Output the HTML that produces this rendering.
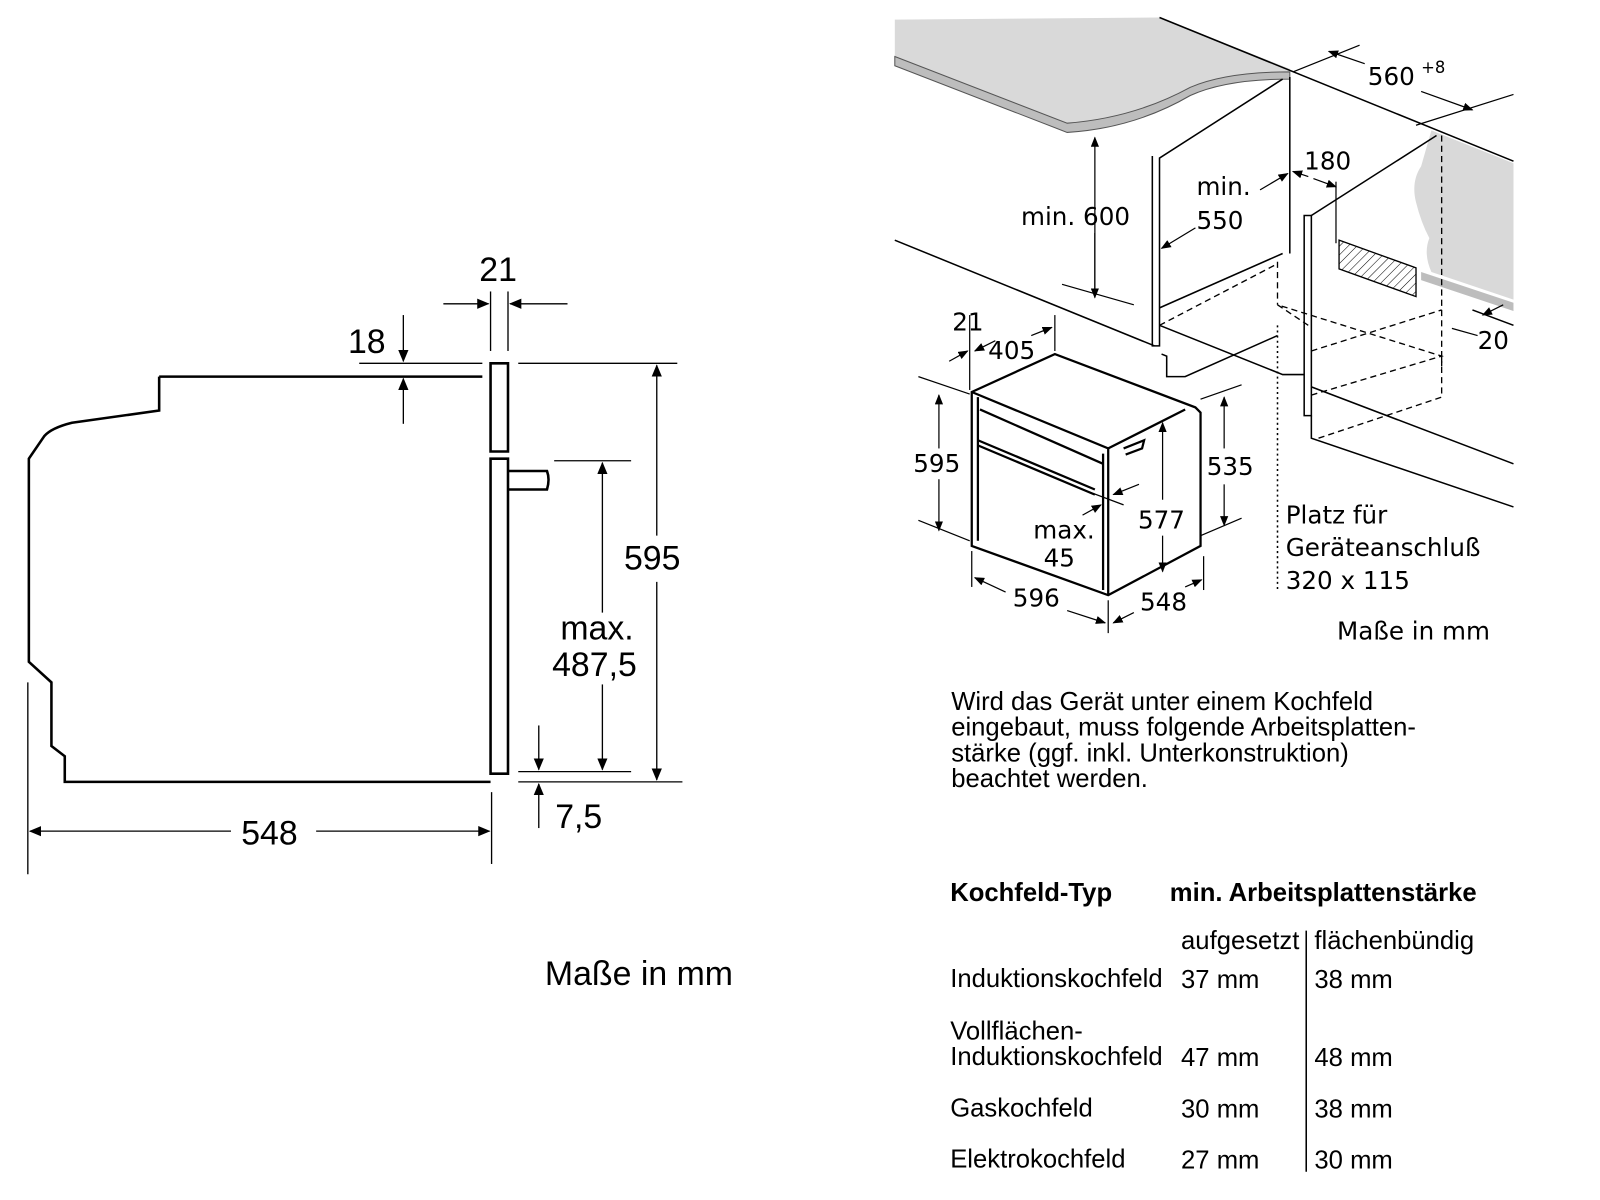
<!DOCTYPE html>
<html><head><meta charset="utf-8"><style>
html,body{margin:0;padding:0;background:#fff;}
svg{display:block;font-family:"Liberation Sans","DejaVu Sans",sans-serif;}
</style></head><body>
<svg width="1600" height="1200" viewBox="0 0 1600 1200" xmlns="http://www.w3.org/2000/svg">
<defs>
<marker id="a" markerWidth="12" markerHeight="10" refX="11" refY="5" orient="auto" markerUnits="userSpaceOnUse"><path d="M0,0 L12,5 L0,10 Z" fill="#000"/></marker>
<marker id="s" markerWidth="10" markerHeight="8" refX="9" refY="4" orient="auto" markerUnits="userSpaceOnUse"><path d="M0,0 L10,4 L0,8 Z" fill="#000"/></marker>
<pattern id="h" width="6" height="6" patternUnits="userSpaceOnUse" patternTransform="rotate(45)"><line x1="0" y1="0" x2="0" y2="6" stroke="#000" stroke-width="1"/></pattern>
</defs>
<g transform="translate(-5,-3) scale(1.026)">
<g fill="none" stroke="#000" stroke-width="2.5">
<path d="M160,370 L475,370 M160,370 L160,403 L75,415 Q55,420 48,428 L33,450 L33,648 L55,668 L55,730 L68,740 L68,765 L483,765"/>
<path d="M483,357 L500,357 L500,443 L483,443 Z"/>
<path d="M483,450 L500,450 L500,757 L483,757 Z" />
<path d="M500,462 L538,462 Q541,470 538,480 L500,480"/>
</g>
<g stroke="#000" stroke-width="1.3" fill="none">
<line x1="483" y1="287" x2="483" y2="345"/><line x1="500" y1="287" x2="500" y2="345"/>
<line x1="437" y1="299" x2="481" y2="299" marker-end="url(#a)"/><line x1="558" y1="299" x2="502" y2="299" marker-end="url(#a)"/>
<line x1="355" y1="357" x2="475" y2="357"/><line x1="510" y1="357" x2="665" y2="357"/>
<line x1="398" y1="310" x2="398" y2="355" marker-end="url(#a)"/><line x1="398" y1="416" x2="398" y2="372" marker-end="url(#a)"/>
<line x1="510" y1="765" x2="670" y2="765"/><line x1="510" y1="755" x2="620" y2="755"/>
<line x1="545" y1="452" x2="620" y2="452"/>
<line x1="645" y1="525" x2="645" y2="359" marker-end="url(#a)"/><line x1="645" y1="570" x2="645" y2="763" marker-end="url(#a)"/>
<line x1="592" y1="600" x2="592" y2="454" marker-end="url(#a)"/><line x1="592" y1="670" x2="592" y2="753" marker-end="url(#a)"/>
<line x1="530" y1="710" x2="530" y2="753" marker-end="url(#a)"/><line x1="530" y1="810" x2="530" y2="767" marker-end="url(#a)"/>
<line x1="32" y1="668" x2="32" y2="855"/><line x1="484" y1="775" x2="484" y2="845"/>
<line x1="230" y1="813" x2="34" y2="813" marker-end="url(#a)"/><line x1="313" y1="813" x2="482" y2="813" marker-end="url(#a)"/>
</g>
<g font-size="33" fill="#000">
<text x="472" y="277">21</text><text x="344" y="347">18</text>
<text x="613" y="558">595</text><text x="551" y="626">max.</text><text x="543" y="662">487,5</text>
<text x="546" y="810">7,5</text><text x="240" y="826">548</text>
<text x="536" y="963">Maße in mm</text>
</g>

<path d="M877,22 L1135,20 L1262,70 L1262,75 Q1200,75 1165,90 Q1110,120 1045,125 L877,60 Z" fill="#d9d9d9"/>
<path d="M877,58 L1045,123 Q1110,118 1165,88 Q1200,73 1262,73 L1262,80 Q1200,80 1165,96 Q1110,128 1045,132 L877,67 Z" fill="#bdbdbd" stroke="#555" stroke-width="1"/>
<path d="M1400,130 L1480,162 L1480,295 L1400,268 Q1392,250 1398,235 Q1390,220 1385,200 Q1380,180 1390,165 Z" fill="#d9d9d9"/>
<path d="M1390,268 L1480,298 L1480,306 L1390,276 Z" fill="#bdbdbd"/>
<g stroke="#000" stroke-width="1.5" fill="none">
<line x1="1135" y1="20" x2="1480" y2="160"/>
<path d="M1128,155 L1128,340 L1135,340 L1135,157 L1255,80"/><line x1="1262" y1="78" x2="1262" y2="250"/>
<line x1="877" y1="237" x2="1130" y2="340"/>
<path d="M1135,320 L1255,368 L1276,368"/><path d="M1137,348 L1142,350 L1142,370 L1160,370 L1250,330"/>
<line x1="1135" y1="303" x2="1255" y2="250"/>
<path d="M1276,213 L1283,213 L1283,408 L1276,408 Z"/><line x1="1283" y1="213" x2="1405" y2="135"/>
<path d="M1283,408 L1283,430 L1480,497"/><line x1="1283" y1="380" x2="1480" y2="455"/>
<line x1="1440" y1="305" x2="1480" y2="320"/>
</g>
<g stroke="#000" stroke-width="1.3" fill="none" stroke-dasharray="6,4">
<line x1="1410" y1="135" x2="1410" y2="360"/><line x1="1250" y1="258" x2="1250" y2="300"/>
<path d="M1250,300 L1280,320"/><path d="M1283,388 L1410,350 L1250,300"/>
<path d="M1283,345 L1410,305"/><path d="M1290,430 L1410,390 L1410,350"/>
<line x1="1135" y1="320" x2="1250" y2="260" />
</g>
<line x1="1250" y1="320" x2="1250" y2="580" stroke="#000" stroke-width="1.5" stroke-dasharray="2,3"/>
<path d="M1310,237 L1385,264 L1385,292 L1310,265 Z" fill="url(#h)" stroke="#000" stroke-width="1.3"/>
<g stroke="#000" stroke-width="1.2" fill="none">
<line x1="1072" y1="290" x2="1072" y2="137" marker-end="url(#s)"/><line x1="1072" y1="230" x2="1072" y2="293" marker-end="url(#s)"/>
<line x1="1040" y1="280" x2="1110" y2="300"/>
<line x1="1170" y1="225" x2="1137" y2="245" marker-end="url(#s)"/><line x1="1233" y1="188" x2="1260" y2="172" marker-end="url(#s)"/>
<line x1="1280" y1="175" x2="1265" y2="170" marker-end="url(#s)"/><line x1="1285" y1="177" x2="1307" y2="185" marker-end="url(#s)"/>
<line x1="1307" y1="180" x2="1307" y2="240"/>
<line x1="1265" y1="73" x2="1330" y2="47"/><line x1="1385" y1="125" x2="1480" y2="95"/>
<line x1="1335" y1="65" x2="1300" y2="53" marker-end="url(#s)"/><line x1="1390" y1="92" x2="1440" y2="110" marker-end="url(#s)"/>
<line x1="1420" y1="323" x2="1445" y2="330"/><line x1="1470" y1="300" x2="1450" y2="310" marker-end="url(#s)"/>
</g>
<g stroke="#000" stroke-width="2.2" fill="none">
<path d="M952,385 L1033,348 L1170,400 L1175,405 L1175,535 L1085,583 L952,535 Z"/>
<path d="M952,385 L1085,440 L1160,402"/><line x1="1085" y1="440" x2="1085" y2="583"/>
<path d="M958,390 L958,530 M1080,445 L1080,578"/>
<line x1="960" y1="402" x2="1080" y2="455"/>
<path d="M958,432 L1072,480 M958,437 L1072,485"/>
<path d="M1100,440 L1120,432 L1118,440 L1102,446"/>
</g>
<g stroke="#000" stroke-width="1.2" fill="none">
<line x1="900" y1="370" x2="950" y2="387"/><line x1="900" y1="510" x2="950" y2="530"/>
<line x1="920" y1="440" x2="920" y2="388" marker-end="url(#s)"/><line x1="920" y1="470" x2="920" y2="520" marker-end="url(#s)"/>
<line x1="1175" y1="392" x2="1215" y2="378"/><line x1="1175" y1="525" x2="1215" y2="508"/>
<line x1="1198" y1="440" x2="1198" y2="390" marker-end="url(#s)"/><line x1="1198" y1="475" x2="1198" y2="515" marker-end="url(#s)"/>
<line x1="1138" y1="490" x2="1138" y2="415" marker-end="url(#s)"/><line x1="1138" y1="525" x2="1138" y2="560" marker-end="url(#s)"/>
<line x1="952" y1="540" x2="952" y2="575"/><line x1="1085" y1="588" x2="1085" y2="620"/><line x1="1178" y1="545" x2="1178" y2="578"/>
<line x1="985" y1="580" x2="955" y2="566" marker-end="url(#s)"/><line x1="1045" y1="598" x2="1082" y2="610" marker-end="url(#s)"/>
<line x1="1110" y1="600" x2="1090" y2="610" marker-end="url(#s)"/><line x1="1160" y1="575" x2="1176" y2="568" marker-end="url(#s)"/>
<line x1="950" y1="310" x2="950" y2="383"/><line x1="1033" y1="310" x2="1033" y2="345"/>
<line x1="930" y1="355" x2="948" y2="345" marker-end="url(#s)"/><line x1="975" y1="335" x2="955" y2="345" marker-end="url(#s)"/>
<line x1="1010" y1="330" x2="1030" y2="322" marker-end="url(#s)"/>
<line x1="1060" y1="480" x2="1100" y2="495"/><line x1="1115" y1="475" x2="1090" y2="485" marker-end="url(#s)"/><line x1="1060" y1="505" x2="1078" y2="495" marker-end="url(#s)"/>
</g>
<g font-size="24" fill="#000" font-family="'DejaVu Sans',sans-serif">
<text x="1000" y="222">min. 600</text><text x="1171" y="193">min.</text><text x="1171" y="226">550</text>
<text x="1276" y="168">180</text><text x="1338" y="86">560</text><text x="1390" y="74" font-size="16">+8</text>
<text x="1445" y="343">20</text><text x="933" y="325">21</text><text x="968" y="353">405</text>
<text x="895" y="463">595</text><text x="1181" y="466">535</text><text x="1114" y="518">577</text>
<text x="1012" y="528">max.</text><text x="1022" y="555">45</text>
<text x="992" y="594">596</text><text x="1116" y="598">548</text>
<text x="1258" y="513">Platz für</text><text x="1258" y="545">Geräteanschluß</text><text x="1258" y="577">320 x 115</text>
<text x="1308" y="626">Maße in mm</text>
</g>
<g font-size="25" fill="#000">
<text x="932" y="695">Wird das Gerät unter einem Kochfeld</text>
<text x="932" y="720">eingebaut, muss folgende Arbeitsplatten-</text>
<text x="932" y="745">stärke (ggf. inkl. Unterkonstruktion)</text>
<text x="932" y="770">beachtet werden.</text>
<text x="931" y="881" font-weight="bold">Kochfeld-Typ</text>
<text x="1145" y="881" font-weight="bold">min. Arbeitsplattenstärke</text>
<text x="1156" y="928">aufgesetzt</text><text x="1286" y="928">flächenbündig</text>
<text x="931" y="965">Induktionskochfeld</text><text x="1156" y="966">37 mm</text><text x="1286" y="966">38 mm</text>
<text x="931" y="1016">Vollflächen-</text><text x="931" y="1041">Induktionskochfeld</text><text x="1156" y="1042">47 mm</text><text x="1286" y="1042">48 mm</text>
<text x="931" y="1091">Gaskochfeld</text><text x="1156" y="1092">30 mm</text><text x="1286" y="1092">38 mm</text>
<text x="931" y="1141">Elektrokochfeld</text><text x="1156" y="1142">27 mm</text><text x="1286" y="1142">30 mm</text>
</g>
<line x1="1278" y1="910" x2="1278" y2="1145" stroke="#000" stroke-width="1.5"/>
</g>
</svg>
</body></html>
